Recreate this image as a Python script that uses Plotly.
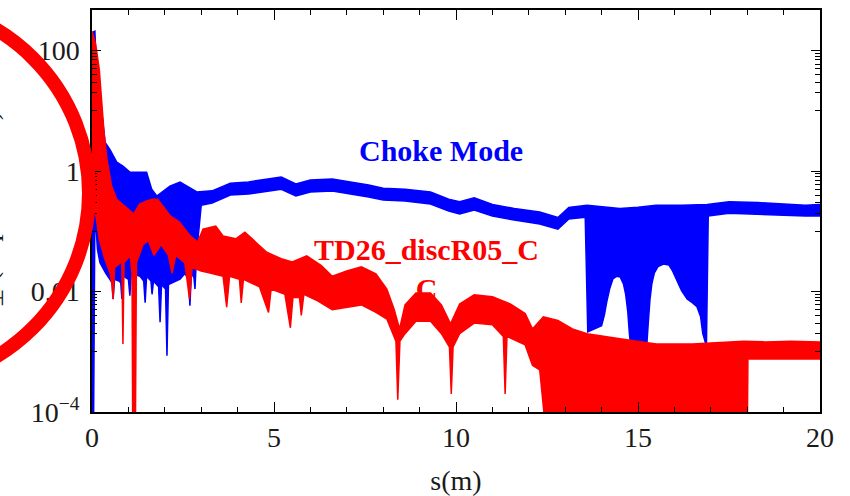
import plotly.graph_objects as go

# ---- Choke Mode wake: upper / lower envelope of the oscillating trace ----
choke_top_s = [0.0, 0.08, 0.13, 0.17, 0.27, 0.36, 0.49, 0.68, 0.85, 1.04, 1.5, 1.64, 1.78,
               2.14, 2.42, 2.88, 3.3, 3.8, 4.3, 4.8, 5.2, 5.6, 6.0, 6.6, 7.1, 7.6, 8.0,
               8.6, 9.3, 9.8, 10.1, 10.5, 11.0, 11.6, 12.3, 12.8, 13.1, 13.6, 14.5, 15.0,
               15.5, 16.2, 16.9, 17.5, 18.3, 19.0, 19.6, 20.0]
choke_top_w = [200, 210, 30, 15.6, 9.5, 3.0, 2.3, 1.41, 1.21, 0.96, 0.96, 0.50, 0.385,
               0.56, 0.66, 0.45, 0.47, 0.63, 0.66, 0.74, 0.80, 0.61, 0.71, 0.74, 0.66, 0.59, 0.52,
               0.50, 0.45, 0.34, 0.31, 0.36, 0.28, 0.24, 0.21, 0.17, 0.25, 0.27, 0.24, 0.25,
               0.27, 0.27, 0.28, 0.31, 0.30, 0.28, 0.27, 0.28]

choke_bot_s = [0.0, 0.04, 0.08, 0.15, 0.22, 0.38, 0.49, 0.55, 0.58, 0.62, 0.74, 0.79, 0.82,
               0.86, 1.0, 1.04, 1.08, 1.32, 1.42, 1.46, 1.50, 1.62, 1.65, 1.69, 1.83, 1.87,
               1.91, 2.02, 2.06, 2.10, 2.25, 2.42, 2.55, 2.65, 2.69, 2.73, 2.80, 2.83, 2.87,
               2.94, 3.0, 3.3, 3.8, 4.3, 4.8, 5.2, 5.6, 6.0, 6.6, 7.1, 7.6, 8.0, 8.6, 9.3,
               9.8, 10.1, 10.5, 11.0, 11.6, 12.3, 12.8, 13.1, 13.55, 13.62, 14.0, 14.08,
               14.14, 14.22, 14.31, 14.42, 14.51, 14.6, 14.66, 14.72, 14.76, 14.8, 15.11,
               15.24, 15.28, 15.33, 15.38, 15.45, 15.55, 15.7, 15.85, 15.95, 16.05, 16.2,
               16.35, 16.5, 16.62, 16.72, 16.78, 16.88, 16.93, 17.5, 18.3, 19.0, 19.6, 20.0]
choke_bot_w = [3e-5, 3e-5, 0.234, 0.05, 0.03, 0.02, 0.016, 0.014, 0.0075, 0.016, 0.015, 0.014,
               0.0075, 0.018, 0.016, 0.0085, 0.02, 0.018, 0.015, 0.0065, 0.018, 0.015, 0.009,
               0.015, 0.012, 0.0031, 0.013, 0.011, 0.00086, 0.013, 0.0144, 0.016, 0.02, 0.016,
               0.0058, 0.02, 0.017, 0.011, 0.04, 0.1, 0.27, 0.294, 0.40, 0.415, 0.466, 0.50,
               0.385, 0.45, 0.466, 0.415, 0.37, 0.33, 0.318, 0.284, 0.217, 0.194, 0.225,
               0.179, 0.154, 0.132, 0.109, 0.16, 0.172, 0.00214, 0.0027, 0.0042, 0.0067,
               0.011, 0.0162, 0.018, 0.0175, 0.0134, 0.0091, 0.0046, 0.00214, 0.0012, 0.0012,
               0.00125, 0.0029, 0.0075, 0.0134, 0.0205, 0.026, 0.0287, 0.0276, 0.022, 0.0162,
               0.0103, 0.0075, 0.0065, 0.0056, 0.0038, 0.002, 0.00125, 0.179, 0.2,
               0.194, 0.186, 0.179, 0.179]

# ---- TD26_discR05_CC wake: upper / lower envelope ----
td26_top_s = [0.0, 0.1, 0.2, 0.27, 0.33, 0.41, 0.54, 0.68, 0.85, 1.0, 1.15, 1.3, 1.5, 1.65,
              1.8, 1.95, 2.15, 2.4, 2.7, 2.9, 3.05, 3.4, 3.6, 3.95, 4.2, 4.5, 4.8, 5.2, 5.5,
              5.9, 6.3, 6.6, 7.0, 7.4, 7.8, 8.1, 8.3, 8.45, 8.6, 8.9, 9.3, 9.6, 9.85, 10.1,
              10.5, 11.0, 11.5, 11.9, 12.1, 12.4, 12.8, 13.2, 13.6, 14.5, 15.5, 16.5, 17.5,
              17.9, 18.5, 19.2, 20.0]
td26_top_w = [210, 128, 49, 10.7, 4.4, 1.58, 0.56, 0.34, 0.28, 0.234, 0.194, 0.28, 0.32, 0.34,
              0.34, 0.26, 0.18, 0.143, 0.084, 0.066, 0.109, 0.122, 0.084, 0.075, 0.097, 0.066,
              0.045, 0.035, 0.031, 0.039, 0.027, 0.018, 0.022, 0.0257, 0.0196, 0.011, 0.0051,
              0.0024, 0.006, 0.0095, 0.0095, 0.006, 0.0029, 0.0062, 0.0088, 0.0082, 0.0062,
              0.0043, 0.0024, 0.0038, 0.0033, 0.0024, 0.002, 0.00164, 0.00135, 0.00135,
              0.00146, 0.0015, 0.00146, 0.0015, 0.00146]

td26_bot_s = [0.0, 0.1, 0.2, 0.35, 0.5, 0.55, 0.58, 0.62, 0.78, 0.82, 0.85, 0.88, 1.05, 1.1,
              1.12, 1.19, 1.22, 1.4, 1.55, 1.7, 1.9, 2.1, 2.2, 2.3, 2.55, 2.68, 2.75, 3.0,
              3.3, 3.6, 3.70, 3.78, 4.05, 4.1, 4.16, 4.6, 4.85, 4.92, 5.3, 5.45, 5.52, 5.7,
              5.75, 5.82, 6.2, 6.6, 7.0, 7.4, 7.8, 8.1, 8.35, 8.4, 8.46, 8.6, 8.9, 9.3, 9.6,
              9.82, 9.87, 9.92, 10.1, 10.5, 11.0, 11.3, 11.35, 11.4, 11.9, 12.1, 12.3, 12.5,
              18.0, 18.02, 20.0]
td26_bot_w = [0.284, 0.194, 0.0745, 0.035, 0.02, 0.013, 0.0075, 0.025, 0.03, 0.03, 0.00135,
              0.03, 0.04, 0.02, 3e-5, 3e-5, 0.03, 0.06, 0.07, 0.04, 0.06, 0.04, 0.02, 0.04,
              0.03, 0.0075, 0.025, 0.022, 0.02, 0.018, 0.0055, 0.018, 0.016, 0.0065, 0.016,
              0.012, 0.0045, 0.011, 0.009, 0.0025, 0.008, 0.008, 0.004, 0.009, 0.007, 0.005,
              0.0055, 0.006, 0.0045, 0.0035, 0.0015, 0.00016, 0.0015, 0.002, 0.0032, 0.0032,
              0.002, 0.0012, 0.0002, 0.0012, 0.002, 0.003, 0.0028, 0.0018, 0.0002, 0.0018,
              0.0013, 0.0006, 0.0005, 3e-5, 3e-5, 0.00076, 0.00076]

x_major = [0, 5, 10, 15, 20]
y_major = [1e-4, 1e-2, 1, 100]
y_major_text = ["10<sup>\u22124</sup>", "0.01", "1", "100"]
y_minor = [d * 10.0 ** k for k in (-3, -1, 1) for d in range(1, 10)]

BLUE = "#0000ff"
RED = "#ff0000"
INK = "#1a1a1a"
SERIF = "Liberation Serif, Times New Roman, serif"


def band(top_s, top_w, bot_s, bot_w, color, name):
    """Closed polygon between the upper and lower envelope of a wake trace."""
    xs = list(top_s) + list(reversed(bot_s)) + [top_s[0]]
    ys = list(top_w) + list(reversed(bot_w)) + [top_w[0]]
    return go.Scatter(x=xs, y=ys, mode="lines", fill="toself", fillcolor=color,
                      line=dict(color=color, width=1.5), name=name,
                      hoverinfo="skip", showlegend=False)


fig = go.Figure()
fig.add_trace(band(choke_top_s, choke_top_w, choke_bot_s, choke_bot_w, BLUE, "Choke Mode"))
fig.add_trace(band(td26_top_s, td26_top_w, td26_bot_s, td26_bot_w, RED, "TD26_discR05_CC"))

frame = dict(showline=True, linecolor="black", linewidth=1.5, mirror="ticks",
             ticks="inside", tickcolor="black", showgrid=False, zeroline=False,
             automargin=False, tickfont=dict(family=SERIF, size=28, color=INK))

fig.update_layout(
    xaxis=dict(range=[0, 20], tickmode="array", tickvals=x_major, ticklen=10, tickwidth=1.2,
               minor=dict(dtick=1, ticks="inside", ticklen=5, tickwidth=1,
                          tickcolor="black", showgrid=False),
               title=dict(text="s(m)", font=dict(family=SERIF, size=28, color=INK),
                          standoff=20),
               **frame),
    # top edge of the frame carries the same major and minor ticks
    xaxis2=dict(range=[0, 20], overlaying="x", side="top", matches="x", automargin=False,
                tickmode="array", tickvals=x_major, ticks="inside", ticklen=10,
                tickwidth=1.2, tickcolor="black", showticklabels=False, showgrid=False,
                zeroline=False, showline=False,
                minor=dict(dtick=1, ticks="inside", ticklen=5, tickwidth=1,
                           tickcolor="black", showgrid=False)),
    yaxis=dict(type="log", range=[-4, 2.675], tickmode="array", tickvals=y_major,
               ticktext=y_major_text, ticklen=9, tickwidth=1.2, ticklabelstandoff=5,
               minor=dict(tickmode="array", tickvals=y_minor, ticks="inside", ticklen=5,
                          tickwidth=1, tickcolor="black", showgrid=False),
               **frame),
)
# invisible carrier trace so the top axis is drawn
fig.add_trace(go.Scatter(x=[0, 20], y=[1, 1], xaxis="x2", mode="lines",
                         line=dict(width=0), hoverinfo="skip", showlegend=False,
                         opacity=0))

fig.add_annotation(x=9.6, y=0.35, xref="x", yref="y", text="<b>Choke Mode</b>",
                   xanchor="center", yanchor="middle", showarrow=False,
                   font=dict(family=SERIF, size=30, color=BLUE))
fig.add_annotation(x=9.2, y=-1.63, xref="x", yref="y",
                   text="<b>TD26_discR05_C</b><br><b>C</b>", align="center",
                   xanchor="center", yanchor="middle", showarrow=False,
                   font=dict(family=SERIF, size=30, color=RED))
fig.add_annotation(x=-0.142, y=0.47, xref="paper", yref="paper", textangle=-90,
                   text="W<sub>\u22a5</sub> (V/pC/mm/m)", showarrow=False,
                   xanchor="center", yanchor="middle",
                   font=dict(family=SERIF, size=30, color=INK))

# highlight ring drawn over the vertical axis labels (sized in pixels from the plot corner)
fig.add_shape(type="circle", xref="paper", yref="paper",
              xsizemode="pixel", ysizemode="pixel", xanchor=0, yanchor=0,
              x0=-387, x1=-3, y0=28, y1=410,
              line=dict(color=RED, width=14), fillcolor="rgba(0,0,0,0)", layer="above")

fig.update_layout(width=850, height=496, margin=dict(l=92, r=30, t=10, b=84),
                  plot_bgcolor="white", paper_bgcolor="white", showlegend=False)

fig.write_html("out.html")
